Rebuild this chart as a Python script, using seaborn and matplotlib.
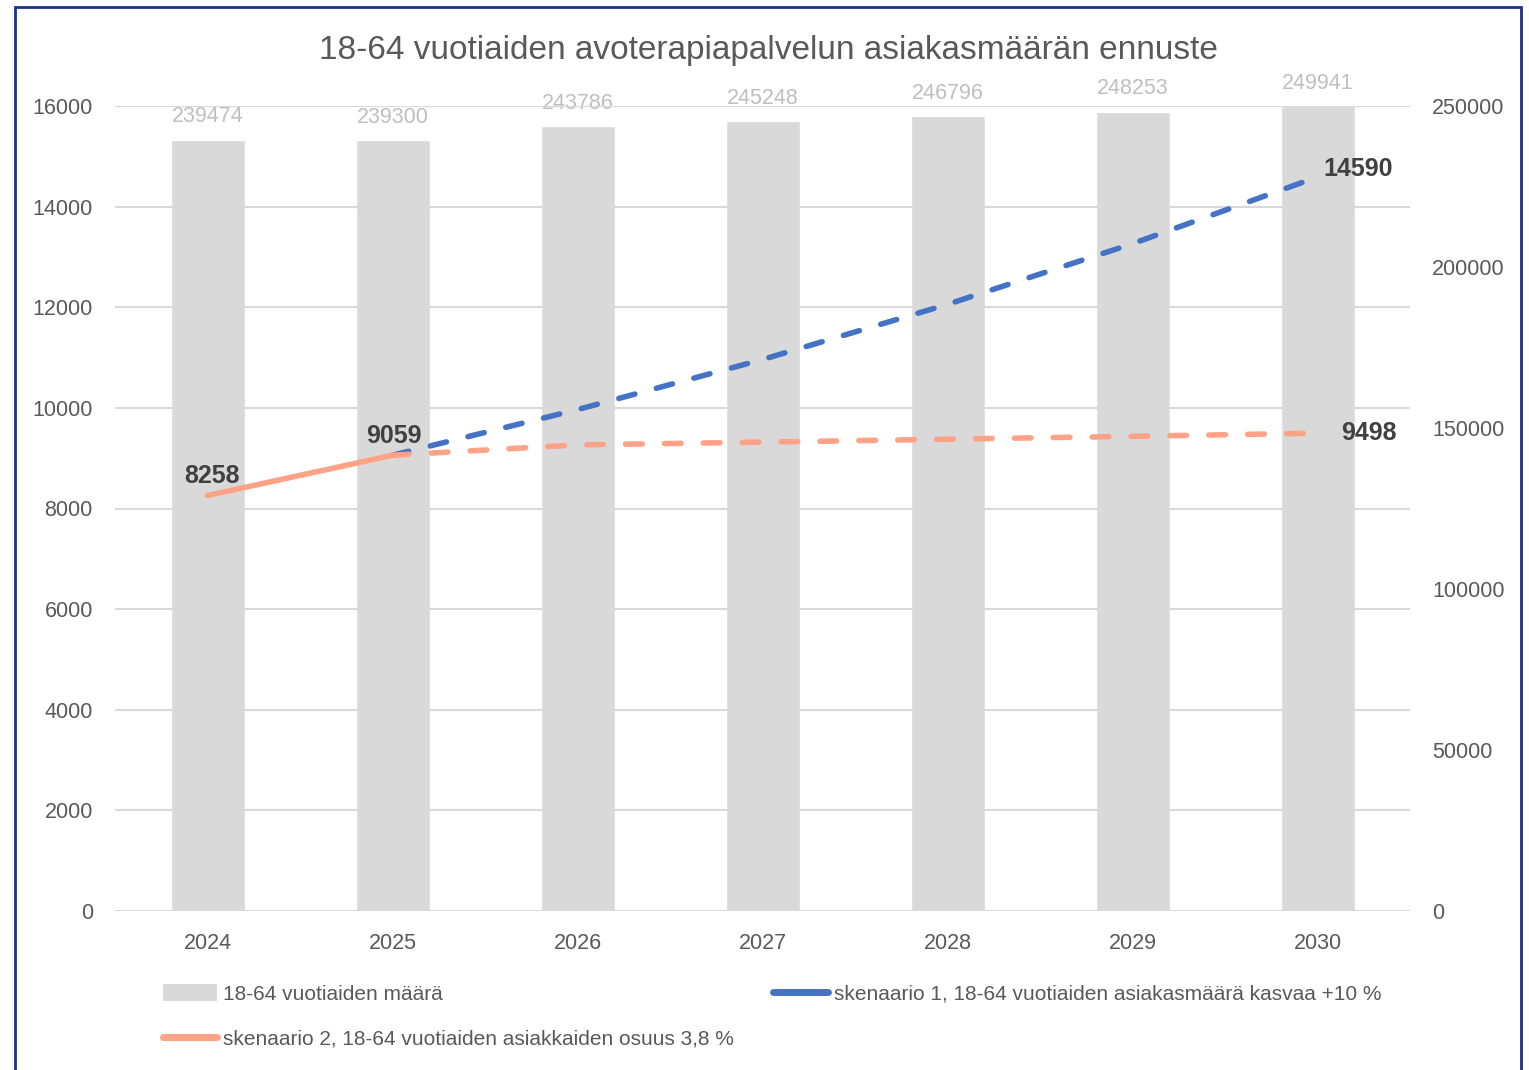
import numpy as np
import pandas as pd
import seaborn as sns
import matplotlib.pyplot as plt
from matplotlib.lines import Line2D
from matplotlib.patches import Patch, Rectangle

# data
vuodet = [2024, 2025, 2026, 2027, 2028, 2029, 2030]
vaesto = [239474, 239300, 243786, 245248, 246796, 248253, 249941]   # 18-64 vuotiaiden määrä (right axis)
toteutunut_vuodet = [2024, 2025]
toteutunut = [8258, 9059]
sken1_vuodet = [2025, 2026, 2027, 2028, 2029, 2030]
sken1 = [9059, 9965, 10961, 12057, 13263, 14590]
sken2_vuodet = [2025, 2026, 2027, 2028, 2029, 2030]
sken2 = [9059, 9264, 9319, 9378, 9434, 9498]

otsikko = "18-64 vuotiaiden avoterapiapalvelun asiakasmäärän ennuste"
lab_bar = "18-64 vuotiaiden määrä"
lab_s1 = "skenaario 1, 18-64 vuotiaiden asiakasmäärä kasvaa +10 %"
lab_s2 = "skenaario 2, 18-64 vuotiaiden asiakkaiden osuus 3,8 %"

harmaa = '#d9d9d9'
sininen = '#4472c4'
lohi = '#ffa286'
teksti = '#595959'

sns.set_theme(style='white')
plt.rcParams['font.family'] = ['Liberation Sans', 'DejaVu Sans']

df_bar = pd.DataFrame({'vuosi': vuodet, 'maara': vaesto})

fig = plt.figure(figsize=(15.29, 10.70), dpi=100)
ax = fig.add_axes([115/1529, 1-911/1070, (1410-115)/1529, (911-106)/1070])
ax2 = ax.twinx()

# bars on secondary axis
sns.barplot(data=df_bar, x='vuosi', y='maara', native_scale=True, width=0.4,
            color=harmaa, saturation=1, ax=ax2)
ax2.bar_label(ax2.containers[0], labels=[str(v) for v in vaesto], padding=9,
              fontsize=15.5, color='#bfbfbf')

# lines on primary axis, drawn above the bars
ax.set_zorder(ax2.get_zorder() + 1)
ax.patch.set_visible(False)

sns.lineplot(x=sken1_vuodet, y=sken1, ax=ax, color=sininen, lw=4,
             linestyle=(0, (3, 4)), dash_capstyle='round')
sns.lineplot(x=sken2_vuodet, y=sken2, ax=ax, color=lohi, lw=4,
             linestyle=(0, (3, 4)), dash_capstyle='round')
sns.lineplot(x=toteutunut_vuodet, y=toteutunut, ax=ax, color=lohi, lw=4,
             solid_capstyle='round')

# data labels
lbl = dict(fontsize=18, fontweight='bold', color='#404040', textcoords='offset points', va='center')
ax.annotate(str(toteutunut[0]), (toteutunut_vuodet[0], toteutunut[0]), xytext=(3, 14), ha='center', **lbl)
ax.annotate(str(toteutunut[1]), (toteutunut_vuodet[1], toteutunut[1]), xytext=(1, 14), ha='center', **lbl)
ax.annotate(str(sken1[-1]), (sken1_vuodet[-1], sken1[-1]), xytext=(4, 6), ha='left', **lbl)
ax.annotate(str(sken2[-1]), (sken2_vuodet[-1], sken2[-1]), xytext=(17, 0), ha='left', **lbl)

# axes
ax.set_xlim(vuodet[0] - 0.5, vuodet[-1] + 0.5)
ax.set_ylim(0, 16000)
ax2.set_ylim(0, 250000)
ax.set_yticks(np.arange(0, 16001, 2000))
ax2.set_yticks(np.arange(0, 250001, 50000))
ax.set_xticks(vuodet)
ax.set_xticklabels([str(v) for v in vuodet])
ax.set_xlabel('')
ax.set_ylabel('')
ax2.set_ylabel('')
ax2.set_xlabel('')
ax.grid(axis='y', color=harmaa, lw=1.5)
ax2.grid(False)
for a in (ax, ax2):
    for s in a.spines.values():
        s.set_visible(False)
ax.tick_params(axis='x', length=0, pad=16, labelsize=15.5, labelcolor=teksti)
ax.tick_params(axis='y', length=0, pad=16, labelsize=15.5, labelcolor=teksti)
ax2.tick_params(axis='y', length=0, pad=16, labelsize=15.5, labelcolor=teksti)

fig.text(768/1529, 1-51/1070, otsikko, ha='center', va='center', fontsize=24, color=teksti)

handles = [Patch(facecolor=harmaa, edgecolor='none'),
           Line2D([], [], color=lohi, lw=5, solid_capstyle='round'),
           Line2D([], [], color=sininen, lw=5, solid_capstyle='round')]
labels = [lab_bar, lab_s2, lab_s1]
fig.legend(handles, labels, ncol=2, loc='upper center', bbox_to_anchor=(772/1529, 1-974/1070),
           frameon=False, fontsize=15, labelcolor=teksti, handlelength=2.6, handleheight=0.85,
           handletextpad=0.3, labelspacing=1.2, columnspacing=1.9, borderpad=0)

fig.patches.append(Rectangle((15/1529, -0.05), (1521-15)/1529, 1.05 - 7/1070,
                             transform=fig.transFigure, fill=False, edgecolor='#1a3384', lw=2))

fig.savefig('out.png', dpi=100)
